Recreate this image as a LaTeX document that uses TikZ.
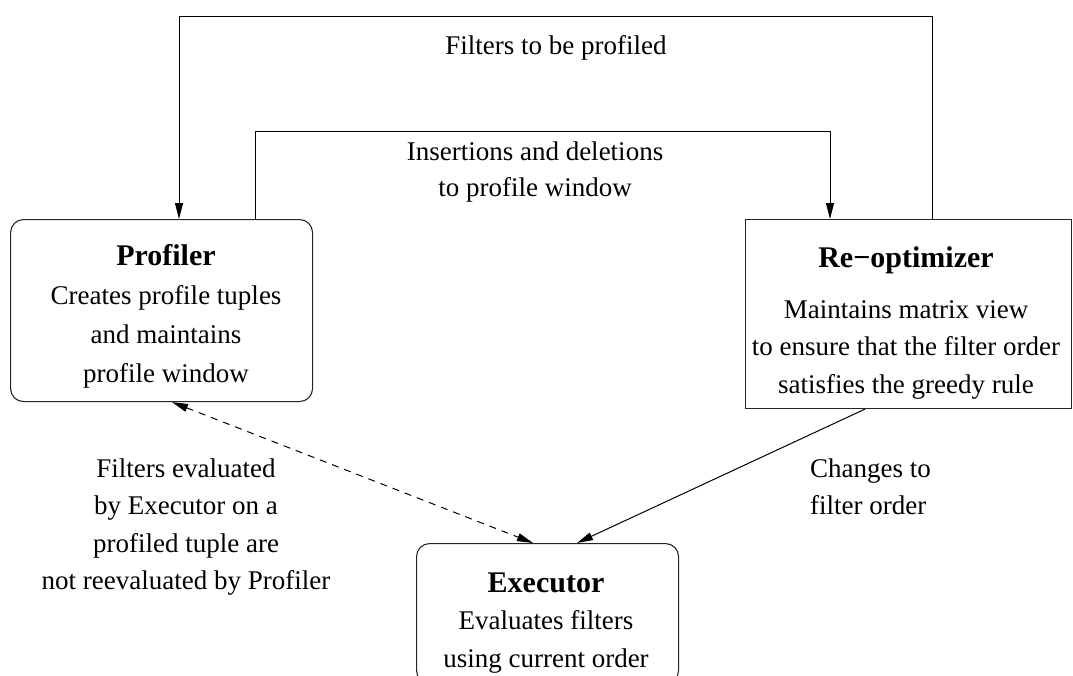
\documentclass[tikz,border=0pt]{standalone}
\usepackage{fontspec}
\setmainfont{Liberation Serif}
\usetikzlibrary{arrows.meta}

% stacked lines whose reference point is the baseline of the first line
\newcommand\linesc[1]{\begin{tabular}[t]{@{}c@{}}#1\end{tabular}}
\newcommand\linesl[1]{\begin{tabular}[t]{@{}l@{}}#1\end{tabular}}
\newcommand\headfont{\fontsize{30}{37.5}\selectfont\bfseries}

\tikzset{
  box/.style={draw=black!85, line width=1.1pt, inner sep=0pt, anchor=north west},
  txt/.style={inner sep=0pt, font=\fontsize{27}{37.5}\selectfont},
  conn/.style={line width=1pt, -{Triangle[length=16pt,width=8pt]}},
  dconn/.style={line width=1pt, dash pattern=on 7pt off 6pt,
                {Triangle[length=16pt,width=8pt]}-{Triangle[length=16pt,width=8pt]}}
}

\begin{document}
\begin{tikzpicture}[x=1pt,y=-1pt]
\useasboundingbox (0,0) rectangle (1073,675);

% component boxes
\node[box, rounded corners=13pt, minimum width=302pt, minimum height=182pt] (prof) at (10,219) {};
\node[box, minimum width=326pt, minimum height=189pt] (reo) at (745,219) {};
\node[box, rounded corners=13pt, minimum width=262pt, minimum height=140pt] (exec) at (416,543) {};

% box contents
\node[txt, anchor=base] (proft) at (166,265)
  {\linesc{{\headfont Profiler}\\[2pt] Creates profile tuples\\[1.5pt] and maintains\\[1.5pt] profile window}};
\node[txt, anchor=base] (reot) at (906,267)
  {\linesc{{\headfont Re−optimizer}\\[13.5pt] Maintains matrix view\\ to ensure that the filter order\\ satisfies the greedy rule}};
\node[txt, anchor=base] (exect) at (546,592)
  {\linesc{{\headfont Executor}\\ Evaluates filters\\ using current order}};

% loop corners
\coordinate (o1) at (932,16);
\coordinate (o2) at (179,16);
\coordinate (i1) at (255,131);
\coordinate (i2) at (830,131);
% attachment columns
\coordinate (dA) at (172,0);
\coordinate (dB) at (533,0);
\coordinate (sA) at (865,0);
\coordinate (sB) at (577,0);

% connectors
\draw[conn] (reo.north -| o1) -- (o1) -- (o2) -- (prof.north -| o2);
\draw[conn] (prof.north -| i1) -- (i1) -- (i2) -- (reo.north -| i2);
\draw[dconn] (prof.south -| dA) -- (exec.north -| dB);
\draw[conn] (reo.south -| sA) -- (exec.north -| sB);

% connector labels
\node[txt, anchor=base] (l1) at (556,54) {Filters to be profiled};
\node[txt, anchor=base] (l2) at (535,160) {\linesc{Insertions and deletions\\[-1.5pt] to profile window}};
\node[txt, anchor=base] (l3) at (186,477)
  {\linesc{Filters evaluated\\ by Executor on a\\ profiled tuple are\\ not reevaluated by Profiler}};
\node[txt, anchor=base west] (l4) at (810,477) {\linesl{Changes to\\ filter order}};
\end{tikzpicture}
\end{document}
